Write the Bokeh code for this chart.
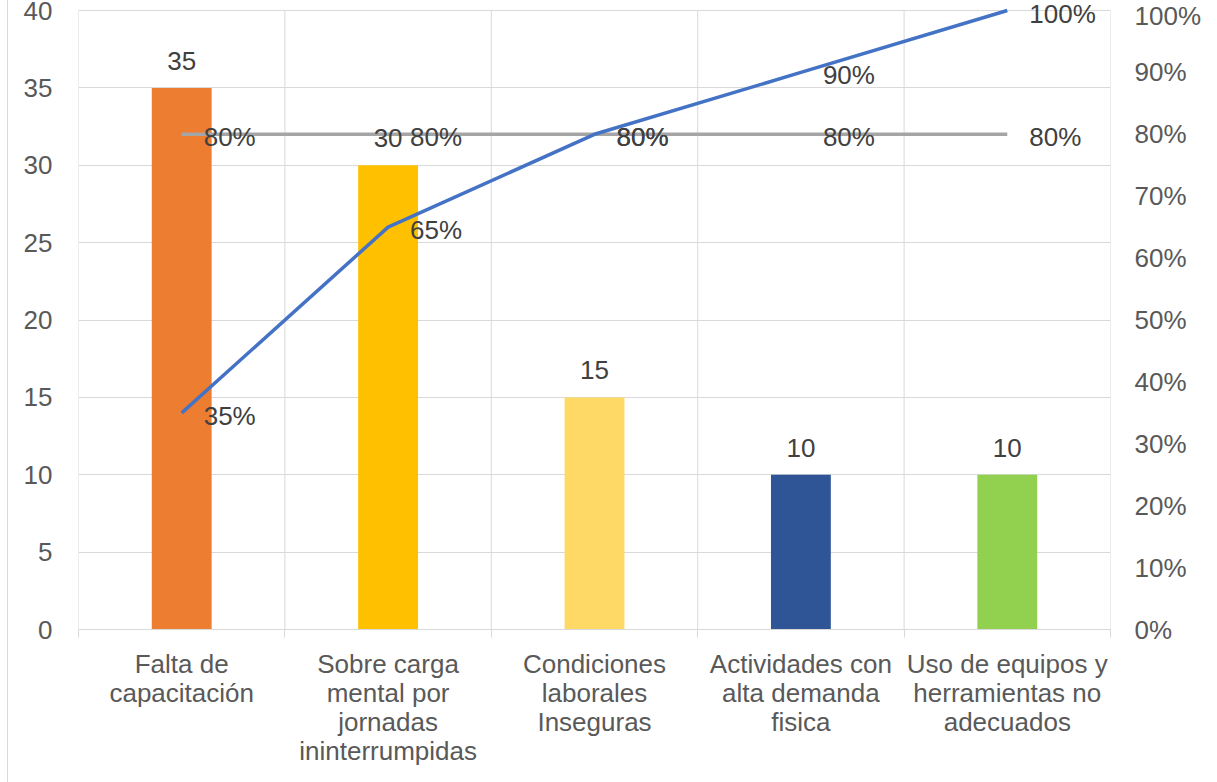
from bokeh.plotting import figure
from bokeh.models import Range1d, LinearAxis, FixedTicker, LabelSet, ColumnDataSource
from bokeh.core.properties import value
from bokeh.embed import file_html
from bokeh.resources import INLINE

categories = [
    "Falta de\ncapacitación",
    "Sobre carga\nmental por\njornadas\nininterrumpidas",
    "Condiciones\nlaborales\nInseguras",
    "Actividades con\nalta demanda\nfisica",
    "Uso de equipos y\nherramientas no\nadecuados",
]
counts = [35, 30, 15, 10, 10]
cumulative_pct = [35, 65, 80, 90, 100]
threshold_pct = [80, 80, 80, 80, 80]
bar_colors = ["#ED7D31", "#FFC000", "#FFD966", "#2F5597", "#92D050"]
left_ticks = [0, 5, 10, 15, 20, 25, 30, 35, 40]
right_ticks = [0, 10, 20, 30, 40, 50, 60, 70, 80, 90, 100]

FONT_NAME = "Liberation Sans"
FS = "26px"
n = len(categories)
xc = [i + 0.5 for i in range(n)]
bounds = list(range(n + 1))

# frame extends 10px above the top gridline so labels there are not clipped
frame_h = 629
grid_h = 619
y_max = left_ticks[-1]
y_top = y_max * frame_h / grid_h
pct_max = right_ticks[-1]
pct_top = pct_max * frame_h / grid_h

src = ColumnDataSource(dict(
    x=xc, counts=counts, cum=cumulative_pct, thr=threshold_pct, color=bar_colors,
    counts_txt=[str(c) for c in counts],
    cum_txt=[f"{v}%" for v in cumulative_pct],
    thr_txt=[f"{v}%" for v in threshold_pct],
))

p = figure(
    width=1209, height=782,
    x_range=Range1d(0, n), y_range=Range1d(0, y_top),
    output_backend="svg", toolbar_location=None,
    min_border_left=70, min_border_right=107, min_border_top=0, min_border_bottom=153,
)
p.styles = {"margin-left": "7px", "border-left": "1px solid #D9D9D9"}
p.extra_y_ranges = {"pct": Range1d(0, pct_top)}
p.outline_line_color = None
p.background_fill_color = "white"
p.border_fill_color = "white"

# grids
p.xgrid.visible = False
p.segment(x0=bounds, y0=[0] * len(bounds), x1=bounds, y1=[y_max] * len(bounds),
          line_color="#D9D9D9", line_width=1, level="underlay")
p.ygrid.ticker = FixedTicker(ticks=left_ticks)
p.ygrid.grid_line_color = "#D9D9D9"
p.ygrid.grid_line_width = 1

# bottom axis
xa = p.xaxis[0]
xa.ticker = FixedTicker(ticks=xc, minor_ticks=bounds)
xa.major_label_overrides = {x: c for x, c in zip(xc, categories)}
xa.axis_line_color = "#D9D9D9"
xa.major_tick_line_color = None
xa.major_tick_out = 0
xa.minor_tick_line_color = "#D9D9D9"
xa.minor_tick_out = 8
xa.minor_tick_in = 0
xa.major_label_standoff = 11
xa.major_label_text_font = FONT_NAME
xa.major_label_text_font_size = FS
xa.major_label_text_line_height = 0.97
xa.major_label_text_color = "#595959"

# left axis
ya = p.yaxis[0]
ya.ticker = FixedTicker(ticks=left_ticks)
ya.axis_line_color = None
ya.major_tick_line_color = None
ya.minor_tick_line_color = None
ya.major_tick_out = 0
ya.major_label_standoff = 26
ya.major_label_text_font = FONT_NAME
ya.major_label_text_font_size = FS
ya.major_label_text_color = "#595959"

# right axis
ra = LinearAxis(y_range_name="pct", ticker=FixedTicker(ticks=right_ticks))
ra.major_label_overrides = {t: f"{t}%" for t in right_ticks}
ra.axis_line_color = None
ra.major_tick_line_color = None
ra.minor_tick_line_color = None
ra.major_tick_out = 0
ra.major_label_standoff = 24
ra.major_label_text_font = FONT_NAME
ra.major_label_text_font_size = FS
ra.major_label_text_color = "#595959"
p.add_layout(ra, "right")

# bars
p.vbar(x="x", top="counts", width=0.29, bottom=0, fill_color="color", line_color=None, source=src)

# lines
p.line(x="x", y="thr", y_range_name="pct", line_color="#A5A5A5", line_width=3.5, source=src)
p.line(x="x", y="cum", y_range_name="pct", line_color="#4472C4", line_width=3.5, source=src)

# labels
common = dict(source=src, text_font=value(FONT_NAME), text_font_size=value(FS),
              text_color="#404040", text_baseline="middle")
p.add_layout(LabelSet(x="x", y="counts", text="counts_txt", text_align="center",
                      y_offset=27, **common))
p.add_layout(LabelSet(x="x", y="thr", text="thr_txt", y_range_name="pct",
                      text_align="left", x_offset=22, y_offset=-3, **common))
p.add_layout(LabelSet(x="x", y="cum", text="cum_txt", y_range_name="pct",
                      text_align="left", x_offset=22, y_offset=-3, **common))

open("out.html", "w").write(file_html(p, INLINE))
